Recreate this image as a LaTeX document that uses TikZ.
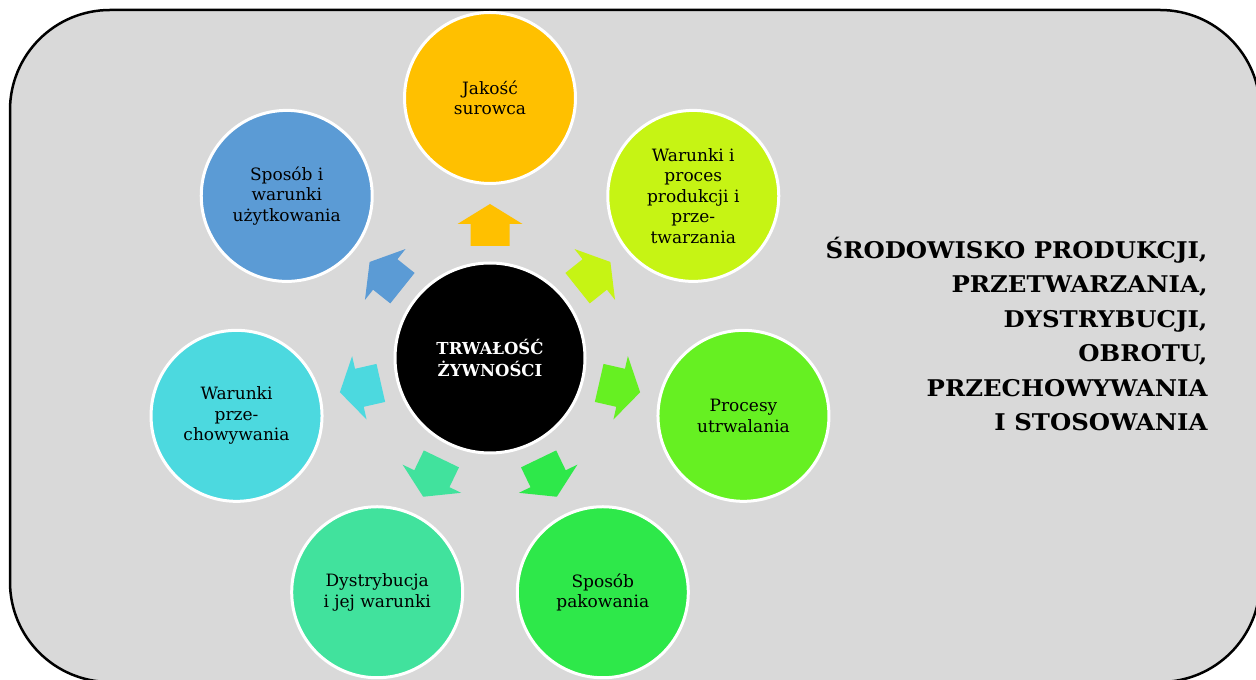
\documentclass[tikz,border=0pt]{standalone}
\usepackage{fontspec}
\setmainfont{DejaVu Serif}
\newfontfamily\widebold[FakeStretch=1.06]{DejaVu Serif Bold}
\usetikzlibrary{calc}
\begin{document}
\begin{tikzpicture}[x=1pt,y=1pt,
  outer/.style={circle,draw=white,line width=3pt,minimum size=171pt,inner sep=0pt,
    align=center,font=\fontsize{17}{20.5}\selectfont,text=black},
  hub/.style={circle,draw=white,line width=3pt,minimum size=190pt,fill=black,inner sep=0pt,
    align=center,font=\bfseries\fontsize{16.5}{22}\selectfont,text=white},
  frame/.style={draw=black,line width=2.5pt,fill=panel,rounded corners=100pt},
  title/.style={align=right,anchor=east,font=\widebold\fontsize{23}{34.5}\selectfont}]
\definecolor{panel}{HTML}{D9D9D9}
\definecolor{cA}{HTML}{FFC000}
\definecolor{cB}{HTML}{C6F414}
\definecolor{cC}{HTML}{66F022}
\definecolor{cD}{HTML}{2EE84A}
\definecolor{cE}{HTML}{41E29D}
\definecolor{cF}{HTML}{4CD9DF}
\definecolor{cG}{HTML}{5B9BD5}
\useasboundingbox (0,0) rectangle (1256,680);
% rounded panel, partly running off the page
\begin{scope}
\clip (0,0) rectangle (1256,680);
\path[frame] (10,-2) rectangle (1260,670);
\end{scope}
\coordinate (c) at (490,322);
% central circle
\node[hub] (hub) at (c) {TRWAŁOŚĆ\\ŻYWNOŚCI};
% surrounding circles
\node[outer,fill=cA] (jakosc) at ($(c)+(90:260)$) {Jakość\\surowca};
\node[outer,fill=cB] (produkcja) at ($(c)+(38.571:260)$) {Warunki i\\proces\\produkcji i\\prze-\\twarzania};
\node[outer,fill=cC] (utrwalanie) at ($(c)+(-12.857:260)$) {Procesy\\utrwalania};
\node[outer,fill=cD] (pakowanie) at ($(c)+(-64.286:260)$) {Sposób\\pakowania};
\node[outer,fill=cE] (dystrybucja) at ($(c)+(-115.714:260)$) {Dystrybucja\\i jej warunki};
\node[outer,fill=cF] (przechowywanie) at ($(c)+(-167.143:260)$) {Warunki\\prze-\\chowywania};
\node[outer,fill=cG] (uzytkowanie) at ($(c)+(141.429:260)$) {Sposób i\\warunki\\użytkowania};
% block arrows pointing outwards
\foreach \ang/\col in {90/cA,38.571/cB,-12.857/cC,-64.286/cD,-115.714/cE,-167.143/cF,141.429/cG}{
  \begin{scope}[shift={(c)},rotate=\ang]
    \fill[\col] (112,-19.5) -- (134,-19.5) -- (134,-32.5) -- (154,0) -- (134,32.5)
      -- (134,19.5) -- (112,19.5) -- cycle;
  \end{scope}
}
% caption on the right
\node[title] (env) at (1211,346) {ŚRODOWISKO PRODUKCJI,\\PRZETWARZANIA,\\DYSTRYBUCJI,\\OBROTU,\\PRZECHOWYWANIA\\I STOSOWANIA};
\end{tikzpicture}
\end{document}
